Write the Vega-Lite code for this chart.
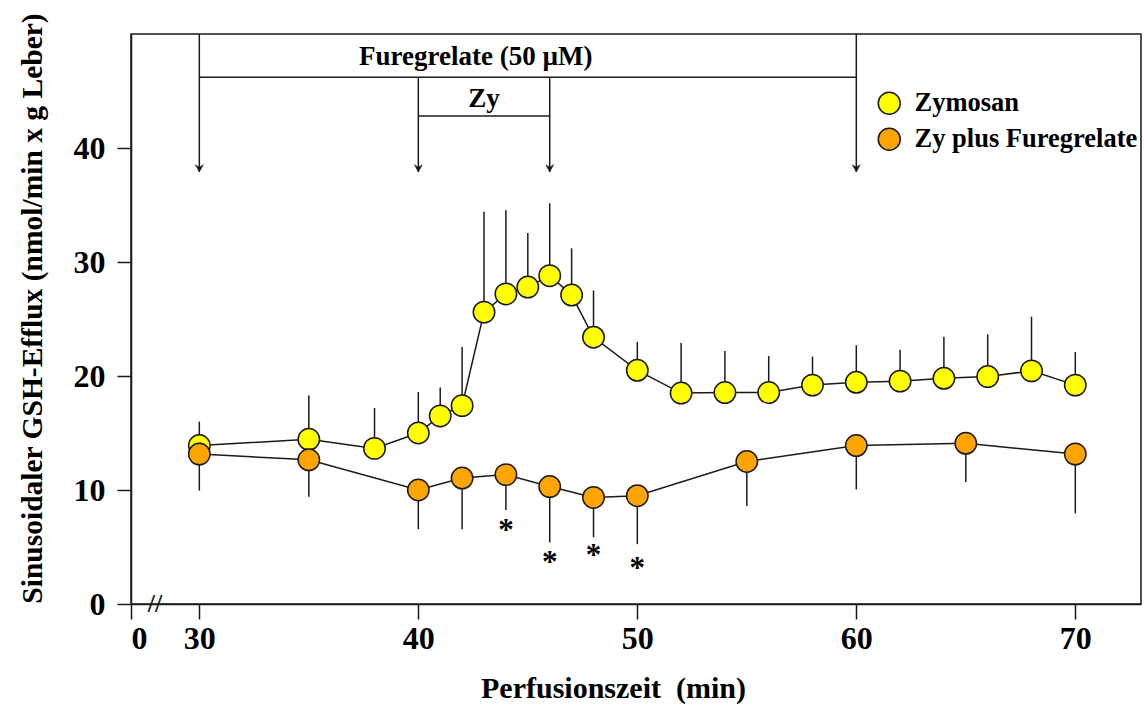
{
  "$schema": "https://vega.github.io/schema/vega-lite/v6.json",
  "width": 1010,
  "height": 570,
  "autosize": "none",
  "padding": {"left": 131, "top": 34, "right": 3, "bottom": 113},
  "background": "white",
  "config": {
    "view": {"stroke": "#1a1a1a", "strokeWidth": 1.5},
    "font": "Liberation Serif",
    "axis": {
      "domainColor": "#1a1a1a", "domainWidth": 1.5,
      "tickColor": "#1a1a1a", "tickWidth": 1.5,
      "grid": false,
      "labelFont": "Liberation Serif", "labelFontWeight": "bold", "labelFontSize": 32, "labelColor": "black",
      "titleFont": "Liberation Serif", "titleFontWeight": "bold", "titleFontSize": 30, "titleColor": "black"
    }
  },
  "datasets": {
    "efflux": [
      {"serie": "Zymosan", "t": 30, "v": 13.9, "err": 16.0},
      {"serie": "Zymosan", "t": 35, "v": 14.45, "err": 18.3},
      {"serie": "Zymosan", "t": 38, "v": 13.65, "err": 17.2},
      {"serie": "Zymosan", "t": 40, "v": 15.0, "err": 18.6},
      {"serie": "Zymosan", "t": 41, "v": 16.5, "err": 19.0},
      {"serie": "Zymosan", "t": 42, "v": 17.4, "err": 22.55},
      {"serie": "Zymosan", "t": 43, "v": 25.6, "err": 34.4},
      {"serie": "Zymosan", "t": 44, "v": 27.2, "err": 34.55},
      {"serie": "Zymosan", "t": 45, "v": 27.8, "err": 32.55},
      {"serie": "Zymosan", "t": 46, "v": 28.8, "err": 35.15},
      {"serie": "Zymosan", "t": 47, "v": 27.1, "err": 31.2},
      {"serie": "Zymosan", "t": 48, "v": 23.4, "err": 27.5},
      {"serie": "Zymosan", "t": 50, "v": 20.5, "err": 23.0},
      {"serie": "Zymosan", "t": 52, "v": 18.5, "err": 22.9},
      {"serie": "Zymosan", "t": 54, "v": 18.55, "err": 22.2},
      {"serie": "Zymosan", "t": 56, "v": 18.55, "err": 21.75},
      {"serie": "Zymosan", "t": 58, "v": 19.2, "err": 21.7},
      {"serie": "Zymosan", "t": 60, "v": 19.45, "err": 22.7},
      {"serie": "Zymosan", "t": 62, "v": 19.55, "err": 22.3},
      {"serie": "Zymosan", "t": 64, "v": 19.8, "err": 23.45},
      {"serie": "Zymosan", "t": 66, "v": 19.95, "err": 23.65},
      {"serie": "Zymosan", "t": 68, "v": 20.45, "err": 25.2},
      {"serie": "Zymosan", "t": 70, "v": 19.2, "err": 22.1},
      {"serie": "Zy plus Furegrelate", "t": 30, "v": 13.15, "err": 9.95},
      {"serie": "Zy plus Furegrelate", "t": 35, "v": 12.65, "err": 9.4},
      {"serie": "Zy plus Furegrelate", "t": 40, "v": 10.0, "err": 6.55},
      {"serie": "Zy plus Furegrelate", "t": 42, "v": 11.05, "err": 6.55},
      {"serie": "Zy plus Furegrelate", "t": 44, "v": 11.35, "err": 8.25},
      {"serie": "Zy plus Furegrelate", "t": 46, "v": 10.3, "err": 5.4},
      {"serie": "Zy plus Furegrelate", "t": 48, "v": 9.35, "err": 5.85},
      {"serie": "Zy plus Furegrelate", "t": 50, "v": 9.5, "err": 5.25},
      {"serie": "Zy plus Furegrelate", "t": 55, "v": 12.5, "err": 8.6},
      {"serie": "Zy plus Furegrelate", "t": 60, "v": 13.9, "err": 10.05},
      {"serie": "Zy plus Furegrelate", "t": 65, "v": 14.1, "err": 10.7},
      {"serie": "Zy plus Furegrelate", "t": 70, "v": 13.15, "err": 7.95}
    ],
    "brackets": [
      {"t": 30, "t2": 60, "y": 46.2, "y2": 46.2},
      {"t": 30, "t2": 30, "y": 50, "y2": 37.9},
      {"t": 60, "t2": 60, "y": 50, "y2": 37.9},
      {"t": 40, "t2": 46, "y": 42.8, "y2": 42.8},
      {"t": 40, "t2": 40, "y": 46.2, "y2": 37.9},
      {"t": 46, "t2": 46, "y": 46.2, "y2": 37.9}
    ],
    "arrows": [
      {"t": 30, "y": 37.9},
      {"t": 40, "y": 37.9},
      {"t": 46, "y": 37.9},
      {"t": 60, "y": 37.9}
    ],
    "labels": [
      {"t": 42.62, "y": 47.3, "txt": "Furegrelate (50 µM)"},
      {"t": 43, "y": 43.6, "txt": "Zy"}
    ],
    "stars": [
      {"t": 44, "y": 5.6},
      {"t": 46, "y": 2.8},
      {"t": 48, "y": 3.4},
      {"t": 50, "y": 2.25}
    ],
    "axisbreak": [
      {"t": 27.98, "y": 0, "txt": "//"}
    ]
  },
  "layer": [
    {
      "data": {"name": "efflux"},
      "mark": {"type": "rule", "stroke": "#1a1a1a", "strokeWidth": 1.5},
      "encoding": {
        "x": {
          "field": "t", "type": "quantitative",
          "scale": {"domain": [26.88, 73], "nice": false, "zero": false},
          "axis": {
            "values": [26.88, 30, 40, 50, 60, 70],
            "labelExpr": "datum.value < 28 ? '0' : format(datum.value, 'd')",
            "tickSize": 15, "labelPadding": 4,
            "title": "Perfusionszeit\u00a0 (min)",
            "titleX": 482, "titleY": 93, "titleAlign": "center", "titleBaseline": "alphabetic"
          }
        },
        "y": {
          "field": "v", "type": "quantitative",
          "scale": {"domain": [0, 50], "nice": false, "zero": false},
          "axis": {
            "values": [0, 10, 20, 30, 40],
            "tickSize": 14, "labelPadding": 12,
            "title": "Sinusoidaler GSH-Efflux (nmol/min x g Leber)",
            "titleFontSize": 29.5,
            "titleAngle": -90, "titleX": -90, "titleY": 274,
            "titleAlign": "center", "titleBaseline": "alphabetic"
          }
        },
        "y2": {"field": "err"}
      }
    },
    {
      "data": {"name": "efflux"},
      "mark": {"type": "line", "stroke": "#1a1a1a", "strokeWidth": 1.5},
      "encoding": {
        "x": {"field": "t", "type": "quantitative"},
        "y": {"field": "v", "type": "quantitative"},
        "detail": {"field": "serie", "type": "nominal"}
      }
    },
    {
      "data": {"name": "efflux"},
      "mark": {"type": "point", "shape": "circle", "filled": true, "size": 460, "stroke": "#1a1a1a", "strokeWidth": 1.5, "opacity": 1},
      "encoding": {
        "x": {"field": "t", "type": "quantitative"},
        "y": {"field": "v", "type": "quantitative"},
        "fill": {
          "field": "serie", "type": "nominal",
          "scale": {"domain": ["Zymosan", "Zy plus Furegrelate"], "range": ["#FFFF00", "#FFA500"]},
          "legend": {
            "orient": "none", "legendX": 745, "legendY": 56,
            "title": null,
            "labelFont": "Liberation Serif", "labelFontWeight": "bold", "labelFontSize": 26.5, "labelColor": "black",
            "labelOffset": 12, "labelLimit": 0,
            "symbolType": "circle", "symbolSize": 484,
            "symbolStrokeColor": "#1a1a1a", "symbolStrokeWidth": 1.5, "symbolOpacity": 1,
            "rowPadding": 7, "padding": 0
          }
        }
      }
    },
    {
      "data": {"name": "brackets"},
      "mark": {"type": "rule", "stroke": "#1a1a1a", "strokeWidth": 1.5},
      "encoding": {
        "x": {"field": "t", "type": "quantitative"},
        "x2": {"field": "t2"},
        "y": {"field": "y", "type": "quantitative"},
        "y2": {"field": "y2"}
      }
    },
    {
      "data": {"name": "arrows"},
      "mark": {"type": "point", "shape": "M0,0L-1,-1.8L0,-1.2L1,-1.8Z", "filled": true, "size": 64, "fill": "#1a1a1a", "stroke": "#1a1a1a", "strokeWidth": 0.5, "opacity": 1},
      "encoding": {
        "x": {"field": "t", "type": "quantitative"},
        "y": {"field": "y", "type": "quantitative"}
      }
    },
    {
      "data": {"name": "labels"},
      "mark": {"type": "text", "font": "Liberation Serif", "fontWeight": "bold", "fontSize": 27, "align": "center", "baseline": "alphabetic", "color": "black"},
      "encoding": {
        "x": {"field": "t", "type": "quantitative"},
        "y": {"field": "y", "type": "quantitative"},
        "text": {"field": "txt"}
      }
    },
    {
      "data": {"name": "stars"},
      "mark": {"type": "text", "font": "Liberation Serif", "fontWeight": "bold", "fontSize": 31, "align": "center", "baseline": "alphabetic", "color": "black", "text": "*"},
      "encoding": {
        "x": {"field": "t", "type": "quantitative"},
        "y": {"field": "y", "type": "quantitative"}
      }
    },
    {
      "data": {"name": "axisbreak"},
      "mark": {"type": "text", "font": "Liberation Serif", "fontWeight": "bold", "fontSize": 26, "align": "center", "baseline": "middle", "color": "#1a1a1a"},
      "encoding": {
        "x": {"field": "t", "type": "quantitative"},
        "y": {"field": "y", "type": "quantitative"},
        "text": {"field": "txt"}
      }
    }
  ]
}
